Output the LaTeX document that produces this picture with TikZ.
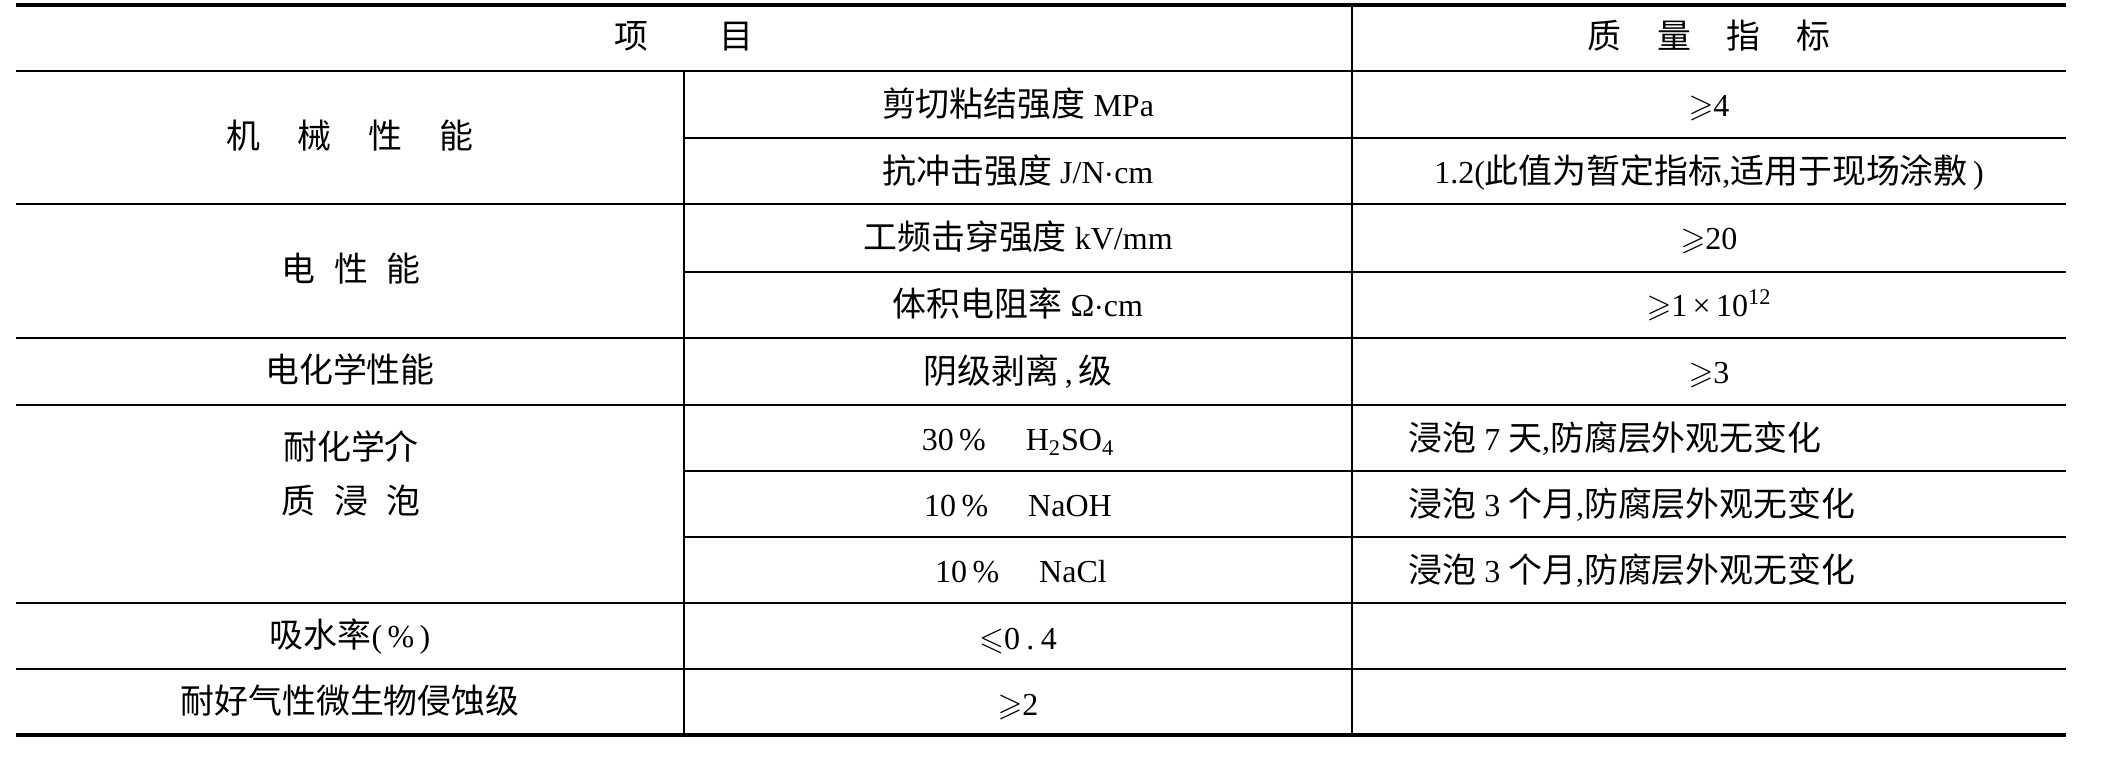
\documentclass[tikz,border=0pt]{standalone}
\usepackage{fontspec}
\usepackage{amssymb}
\setmainfont{Liberation Serif}
\newfontfamily\cjk[Scale=1.06]{Noto Sans CJK SC}
\newcommand\zhtxt[1]{{\cjk #1}}
\newcommand\gesl{$\geqslant$}
\begin{document}
\begin{tikzpicture}[x=0.5pt,y=-0.5pt,
  txt/.style={inner sep=0pt, font=\fontsize{16pt}{27pt}\selectfont, text height=12pt, text depth=3pt, align=center},
  ltxt/.style={txt, anchor=west},
  rulethin/.style={line width=1pt},
  rulethick/.style={line width=2pt}]
\useasboundingbox (0,0) rectangle (2110,770);
% horizontal rules
\draw[rulethick] (16,5) -- (2066,5);
\draw[rulethin] (16,71) -- (2066,71);
\draw[rulethin] (684,138) -- (2066,138);
\draw[rulethin] (16,204) -- (2066,204);
\draw[rulethin] (684,272) -- (2066,272);
\draw[rulethin] (16,338) -- (2066,338);
\draw[rulethin] (16,405) -- (2066,405);
\draw[rulethin] (684,471) -- (2066,471);
\draw[rulethin] (684,537) -- (2066,537);
\draw[rulethin] (16,603) -- (2066,603);
\draw[rulethin] (16,669) -- (2066,669);
\draw[rulethick] (16,735) -- (2066,735);
% vertical rules
\draw[rulethin] (684,71) -- (684,735);
\draw[rulethin] (1352,5) -- (1352,735);
% header
\node[txt] (h1) at (684,40) {\zhtxt{项\hspace{2.1em}目}};
\node[txt] (h2) at (1709,40) {\zhtxt{质\hspace{1.05em}量\hspace{1.05em}指\hspace{1.05em}标}};
% column 1
\node[txt] (c1a) at (350,140) {\zhtxt{机\hspace{1.1em}械\hspace{1.1em}性\hspace{1.1em}能}};
\node[txt] (c1b) at (351,273) {\zhtxt{电\hspace{0.55em}性\hspace{0.55em}能}};
\node[txt] (c1c) at (350,373) {\zhtxt{电化学性能}};
\node[txt] (c1d) at (351,504) {\zhtxt{耐化学介}\\\zhtxt{质\hspace{0.55em}浸\hspace{0.55em}泡}};
\node[txt] (c1e) at (350,638) {\zhtxt{吸水率}(\,\%\,)};
\node[txt] (c1f) at (350,704) {\zhtxt{耐好气性微生物侵蚀级}};
% column 2
\node[txt] (c2a) at (1018,108) {\zhtxt{剪切粘结强度} MPa};
\node[txt] (c2b) at (1018,175) {\zhtxt{抗冲击强度} J/N$\cdot$cm};
\node[txt] (c2c) at (1018,241) {\zhtxt{工频击穿强度} kV/mm};
\node[txt] (c2d) at (1018,308) {\zhtxt{体积电阻率} Ω$\cdot$cm};
\node[txt] (c2e) at (1018,374) {\zhtxt{阴级剥离}\,,\,\zhtxt{级}};
\node[txt] (c2f) at (1018,441) {30\,\%\hspace{1.25em}H\textsubscript{2}SO\textsubscript{4}};
\node[txt] (c2g) at (1018,507) {10\,\%\hspace{1.25em}NaOH};
\node[txt] (c2h) at (1021,573) {10\,\%\hspace{1.25em}NaCl};
\node[txt] (c2i) at (1018,640) {\(\leqslant\)0\hspace{0.2em}.\hspace{0.2em}4};
\node[txt] (c2j) at (1018,706) {\gesl 2};
% column 3
\node[txt] (c3a) at (1709,108) {\gesl 4};
\node[txt] (c3b) at (1709,175) {1.2(\zhtxt{此值为暂定指标},\zhtxt{适用于现场涂敷}\,)};
\node[txt] (c3c) at (1709,241) {\gesl 20};
\node[txt] (c3d) at (1709,308) {\gesl 1\,×\,10\textsuperscript{12}};
\node[txt] (c3e) at (1709,374) {\gesl 3};
\node[ltxt] (c3f) at (1408,441) {\zhtxt{浸泡} 7 \zhtxt{天},\zhtxt{防腐层外观无变化}};
\node[ltxt] (c3g) at (1408,507) {\zhtxt{浸泡} 3 \zhtxt{个月},\zhtxt{防腐层外观无变化}};
\node[ltxt] (c3h) at (1408,573) {\zhtxt{浸泡} 3 \zhtxt{个月},\zhtxt{防腐层外观无变化}};
\end{tikzpicture}
\end{document}
